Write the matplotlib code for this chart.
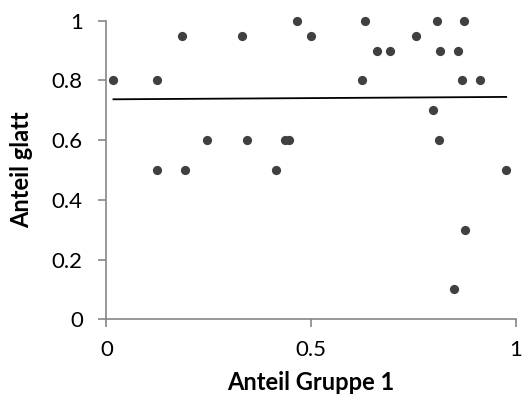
import numpy as np
import matplotlib.pyplot as plt

plt.rcParams['font.family'] = ['Lato', 'DejaVu Sans']

# Anteil Gruppe 1 / Anteil glatt
anteil_gruppe1 = [0.017, 0.124, 0.185, 0.332, 0.466, 0.123, 0.192, 0.245, 0.342,
                  0.435, 0.445, 0.415, 0.499, 0.632, 0.807, 0.873, 0.755, 0.661,
                  0.693, 0.815, 0.858, 0.623, 0.867, 0.912, 0.798, 0.812, 0.976,
                  0.876, 0.849]
anteil_glatt = [0.8, 0.8, 0.95, 0.95, 1.0, 0.5, 0.5, 0.6, 0.6,
                0.6, 0.6, 0.5, 0.95, 1.0, 1.0, 1.0, 0.95, 0.9,
                0.9, 0.9, 0.9, 0.8, 0.8, 0.8, 0.7, 0.6, 0.5,
                0.3, 0.1]

x = np.array(anteil_gruppe1)
y = np.array(anteil_glatt)

fig = plt.figure(figsize=(5.23, 4.09), dpi=100)
ax = fig.add_axes([0.2036, 0.2193, 0.783, 0.7301])

ax.scatter(x, y, s=44, color='#404040', zorder=3, linewidths=0, clip_on=False)

# lineare Trendlinie
m, b = np.polyfit(x, y, 1)
xs = np.array([x.min(), x.max()])
ax.plot(xs, m * xs + b, color='black', lw=1.3, zorder=2)

ax.set_xlim(0, 1)
ax.set_ylim(0, 1)
ax.set_xticks([0, 0.5, 1])
ax.set_xticklabels(['0', '0.5', '1'])
ax.set_yticks([0, 0.2, 0.4, 0.6, 0.8, 1])
ax.set_yticklabels(['0', '0.2', '0.4', '0.6', '0.8', '1'])

for s in ['top', 'right']:
    ax.spines[s].set_visible(False)
for s in ['left', 'bottom']:
    ax.spines[s].set_color('#868686')
    ax.spines[s].set_linewidth(1.2)
ax.tick_params(colors='#868686', labelcolor='black', labelsize=16,
               length=6, width=1.2, direction='out')
ax.tick_params(axis='x', pad=9)
ax.tick_params(axis='y', pad=11)

ax.set_xlabel('Anteil Gruppe 1', fontsize=17, fontweight='bold', va='center')
ax.set_ylabel('Anteil glatt', fontsize=17, fontweight='bold', va='center')
ax.xaxis.set_label_coords(0.5, -0.213)
ax.yaxis.set_label_coords(-0.207, 0.5)

fig.savefig('out.png', dpi=100)
